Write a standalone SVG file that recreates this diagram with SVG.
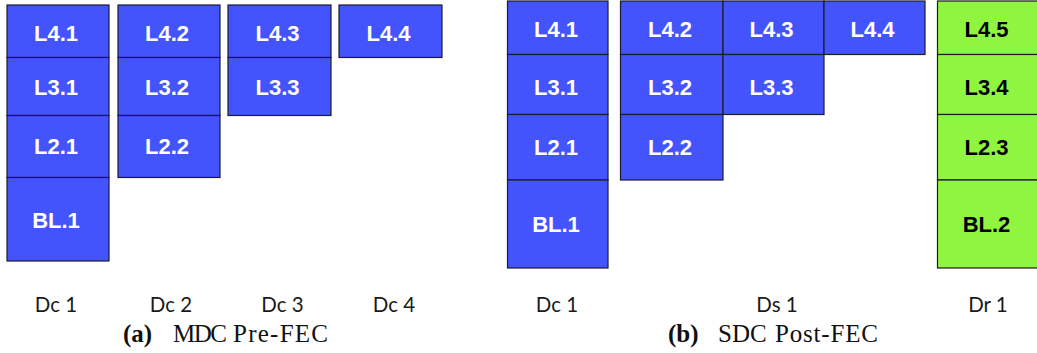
<svg xmlns="http://www.w3.org/2000/svg" width="1037" height="353" viewBox="0 0 1037 353">
<style>
.b{fill:#4354fc;stroke:#1c1c30;stroke-width:1.2}
.g{fill:#8ff53f;stroke:#1c1c1c;stroke-width:1.2}
.tw{font-family:"Liberation Sans",Arial,sans-serif;font-weight:bold;font-size:22px;fill:#ffffff;text-anchor:middle}
.tk{font-family:"Liberation Sans",Arial,sans-serif;font-weight:bold;font-size:22px;fill:#000000;text-anchor:middle}
.lab{font-family:Lato,"Open Sans",sans-serif;font-size:20.5px;fill:#1a1a1a;text-anchor:middle}
.cap{font-family:"Liberation Serif","Times New Roman",serif;font-size:25px;fill:#111111}
</style>
<rect width="1037" height="353" fill="#ffffff"/>
<!-- (a) MDC Pre-FEC -->
<g id="a-L4.1"><rect class="b" x="7" y="5" width="102" height="52.5"/><text class="tw" x="56" y="40.5">L4.1</text></g>
<g id="a-L3.1"><rect class="b" x="7" y="57.5" width="102" height="58"/><text class="tw" x="56" y="95">L3.1</text></g>
<g id="a-L2.1"><rect class="b" x="7" y="115.5" width="102" height="62"/><text class="tw" x="56" y="154">L2.1</text></g>
<g id="a-BL.1"><rect class="b" x="7" y="177.5" width="102" height="83.5"/><text class="tw" x="56" y="228">BL.1</text></g>
<g id="a-L4.2"><rect class="b" x="118" y="5" width="102" height="52.5"/><text class="tw" x="167" y="40.5">L4.2</text></g>
<g id="a-L3.2"><rect class="b" x="118" y="57.5" width="102" height="58"/><text class="tw" x="167" y="95">L3.2</text></g>
<g id="a-L2.2"><rect class="b" x="118" y="115.5" width="102" height="62"/><text class="tw" x="167" y="154">L2.2</text></g>
<g id="a-L4.3"><rect class="b" x="228" y="5" width="103" height="52.5"/><text class="tw" x="277.5" y="40.5">L4.3</text></g>
<g id="a-L3.3"><rect class="b" x="228" y="57.5" width="103" height="58"/><text class="tw" x="277.5" y="95">L3.3</text></g>
<g id="a-L4.4"><rect class="b" x="339" y="5" width="103" height="52.5"/><text class="tw" x="388.5" y="40.5">L4.4</text></g>
<g id="a-labels">
<text class="lab" x="56" y="311.5">Dc 1</text>
<text class="lab" x="171" y="311.5">Dc 2</text>
<text class="lab" x="282.5" y="311.5">Dc 3</text>
<text class="lab" x="394" y="311.5">Dc 4</text>
</g>
<text class="cap" y="341.5"><tspan x="123" font-weight="bold">(a)</tspan> <tspan x="173" textLength="54">MDC</tspan> <tspan x="233" textLength="95">Pre-FEC</tspan></text>
<!-- (b) SDC Post-FEC -->
<g id="b-L4.1"><rect class="b" x="507.5" y="1" width="100.5" height="53.5"/><text class="tw" x="556" y="36.7">L4.1</text></g>
<g id="b-L3.1"><rect class="b" x="507.5" y="54.5" width="100.5" height="60"/><text class="tw" x="556" y="95">L3.1</text></g>
<g id="b-L2.1"><rect class="b" x="507.5" y="114.5" width="100.5" height="65.5"/><text class="tw" x="556" y="155">L2.1</text></g>
<g id="b-BL.1"><rect class="b" x="507.5" y="180" width="100.5" height="88"/><text class="tw" x="556" y="231.7">BL.1</text></g>
<g id="b-L4.2"><rect class="b" x="620.5" y="1" width="102.5" height="53.5"/><text class="tw" x="670" y="36.7">L4.2</text></g>
<g id="b-L4.3"><rect class="b" x="723" y="1" width="101" height="53.5"/><text class="tw" x="771.5" y="36.7">L4.3</text></g>
<g id="b-L4.4"><rect class="b" x="824" y="1" width="101" height="53.5"/><text class="tw" x="872.5" y="36.7">L4.4</text></g>
<g id="b-L3.2"><rect class="b" x="620.5" y="54.5" width="102.5" height="60"/><text class="tw" x="670" y="95">L3.2</text></g>
<g id="b-L3.3"><rect class="b" x="723" y="54.5" width="101" height="60"/><text class="tw" x="771.5" y="95">L3.3</text></g>
<g id="b-L2.2"><rect class="b" x="620.5" y="114.5" width="102.5" height="65.5"/><text class="tw" x="670" y="155">L2.2</text></g>
<g id="b-L4.5"><rect class="g" x="937.5" y="1" width="103" height="53.5"/><text class="tk" x="986.5" y="36.7">L4.5</text></g>
<g id="b-L3.4"><rect class="g" x="937.5" y="54.5" width="103" height="60"/><text class="tk" x="986.5" y="95">L3.4</text></g>
<g id="b-L2.3"><rect class="g" x="937.5" y="114.5" width="103" height="65.5"/><text class="tk" x="986.5" y="155">L2.3</text></g>
<g id="b-BL.2"><rect class="g" x="937.5" y="180" width="103" height="88"/><text class="tk" x="986.5" y="231.7">BL.2</text></g>
<g id="b-labels">
<text class="lab" x="557" y="311.5">Dc 1</text>
<text class="lab" x="777" y="311.5">Ds 1</text>
<text class="lab" x="988" y="311.5">Dr 1</text>
</g>
<text class="cap" y="341.5"><tspan x="668" font-weight="bold">(b)</tspan> <tspan x="718">SDC</tspan> <tspan x="775" textLength="103">Post-FEC</tspan></text>
</svg>
